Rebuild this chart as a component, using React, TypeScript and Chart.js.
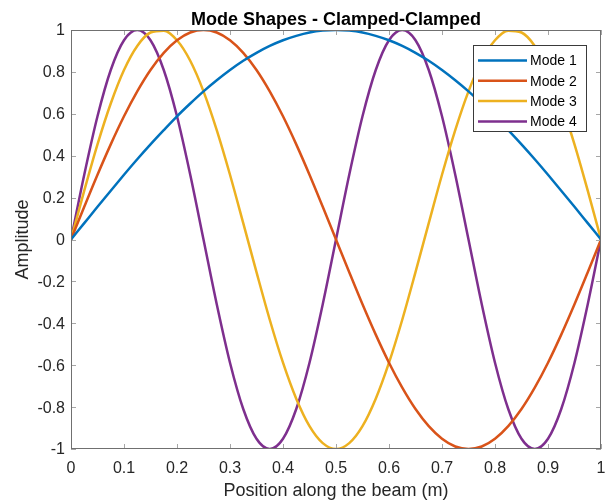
import React, { useEffect, useRef } from 'react';
import { Chart, registerables } from 'chart.js';

Chart.register(...registerables);

const positions = [
  0, 0.025, 0.05, 0.075, 0.1, 0.125, 0.15, 0.175, 0.2, 0.225,
  0.25, 0.275, 0.3, 0.325, 0.35, 0.375, 0.4, 0.425, 0.45, 0.475,
  0.5, 0.525, 0.55, 0.575, 0.6, 0.625, 0.65, 0.675, 0.7, 0.725,
  0.75, 0.775, 0.8, 0.825, 0.85, 0.875, 0.9, 0.925, 0.95, 0.975, 1,
];

const mode1 = [
  0, 0.078, 0.156, 0.233, 0.309, 0.383, 0.454, 0.522, 0.588, 0.649,
  0.707, 0.760, 0.809, 0.853, 0.891, 0.924, 0.951, 0.972, 0.988, 0.997,
  1, 0.997, 0.988, 0.972, 0.951, 0.924, 0.891, 0.853, 0.809, 0.760,
  0.707, 0.649, 0.588, 0.522, 0.454, 0.383, 0.309, 0.233, 0.156, 0.078, 0,
];

const mode2 = [
  0, 0.156, 0.309, 0.454, 0.588, 0.707, 0.809, 0.891, 0.951, 0.988,
  1, 0.988, 0.951, 0.891, 0.809, 0.707, 0.588, 0.454, 0.309, 0.156,
  0, -0.156, -0.309, -0.454, -0.588, -0.707, -0.809, -0.891, -0.951, -0.988,
  -1, -0.988, -0.951, -0.891, -0.809, -0.707, -0.588, -0.454, -0.309, -0.156, 0,
];

const mode3 = [
  0, 0.233, 0.454, 0.649, 0.809, 0.924, 0.988, 0.997, 0.951, 0.853,
  0.707, 0.522, 0.309, 0.078, -0.156, -0.383, -0.588, -0.760, -0.891, -0.972,
  -1, -0.972, -0.891, -0.760, -0.588, -0.383, -0.156, 0.078, 0.309, 0.522,
  0.707, 0.853, 0.951, 0.997, 0.988, 0.924, 0.809, 0.649, 0.454, 0.233, 0,
];

const mode4 = [
  0, 0.309, 0.588, 0.809, 0.951, 1, 0.951, 0.809, 0.588, 0.309,
  0, -0.309, -0.588, -0.809, -0.951, -1, -0.951, -0.809, -0.588, -0.309,
  0, 0.309, 0.588, 0.809, 0.951, 1, 0.951, 0.809, 0.588, 0.309,
  0, -0.309, -0.588, -0.809, -0.951, -1, -0.951, -0.809, -0.588, -0.309, 0,
];

const seriesNames = ['Mode 1', 'Mode 2', 'Mode 3', 'Mode 4'];
const seriesColors = ['#0072BD', '#D95319', '#EDB120', '#7E2F8E'];
const xTicks = [0, 0.1, 0.2, 0.3, 0.4, 0.5, 0.6, 0.7, 0.8, 0.9, 1];
const yTicks = [-1, -0.8, -0.6, -0.4, -0.2, 0, 0.2, 0.4, 0.6, 0.8, 1];

const titleText = 'Mode Shapes - Clamped-Clamped';
const xLabel = 'Position along the beam (m)';
const yLabel = 'Amplitude';

const FONT = '"Liberation Sans", Arial, Helvetica, sans-serif';
const TEXT = '#262626';

const fmt = (v: number) => String(Math.round(v * 10) / 10);

const decorPlugin = {
  id: 'decor',
  afterDatasetsDraw(chart: any) {
    const { ctx, chartArea: a, scales } = chart;
    const xs = scales.x;
    const ys = scales.y;
    ctx.save();

    // inward tick marks on all four sides
    ctx.strokeStyle = '#a6a6a6';
    ctx.lineWidth = 1;
    ctx.beginPath();
    xTicks.forEach((v) => {
      const px = Math.round(xs.getPixelForValue(v)) + 0.5;
      ctx.moveTo(px, a.bottom);
      ctx.lineTo(px, a.bottom - 5);
      ctx.moveTo(px, a.top);
      ctx.lineTo(px, a.top + 5);
    });
    yTicks.forEach((v) => {
      const py = Math.round(ys.getPixelForValue(v)) + 0.5;
      ctx.moveTo(a.left, py);
      ctx.lineTo(a.left + 5, py);
      ctx.moveTo(a.right, py);
      ctx.lineTo(a.right - 5, py);
    });
    ctx.stroke();

    // box
    ctx.strokeStyle = '#707070';
    ctx.lineWidth = 1;
    ctx.strokeRect(a.left + 0.5, a.top + 0.5, a.right - a.left - 1, a.bottom - a.top - 1);

    // tick labels
    ctx.fillStyle = TEXT;
    ctx.font = `16px ${FONT}`;
    ctx.textAlign = 'center';
    ctx.textBaseline = 'alphabetic';
    xTicks.forEach((v) => {
      ctx.fillText(fmt(v), xs.getPixelForValue(v), 473);
    });
    ctx.textAlign = 'right';
    ctx.textBaseline = 'middle';
    yTicks.forEach((v) => {
      ctx.fillText(fmt(v), a.left - 6, ys.getPixelForValue(v) + 1);
    });

    // title
    ctx.font = `bold 18px ${FONT}`;
    ctx.textAlign = 'center';
    ctx.textBaseline = 'alphabetic';
    ctx.fillStyle = '#000000';
    ctx.fillText(titleText, (a.left + a.right) / 2, 25);

    // axis labels
    ctx.fillStyle = TEXT;
    ctx.font = `18px ${FONT}`;
    ctx.fillText(xLabel, (a.left + a.right) / 2, 496);
    ctx.save();
    ctx.translate(28, (a.top + a.bottom) / 2);
    ctx.rotate(-Math.PI / 2);
    ctx.fillText(yLabel, 0, 0);
    ctx.restore();

    // legend
    const lx = 473.5, ly = 45.5, lw = 113, lh = 86;
    ctx.fillStyle = '#ffffff';
    ctx.fillRect(lx, ly, lw, lh);
    ctx.strokeStyle = '#3a3a3a';
    ctx.lineWidth = 1;
    ctx.strokeRect(lx, ly, lw, lh);
    ctx.font = `14px ${FONT}`;
    ctx.textAlign = 'left';
    ctx.textBaseline = 'middle';
    seriesNames.forEach((name, i) => {
      const ry = 60.5 + i * 20.3;
      ctx.strokeStyle = seriesColors[i];
      ctx.lineWidth = 2.5;
      ctx.beginPath();
      ctx.moveTo(478, ry);
      ctx.lineTo(527, ry);
      ctx.stroke();
      ctx.fillStyle = '#000000';
      ctx.fillText(name, 530, ry + 1);
    });

    ctx.restore();
  },
};

export default function App() {
  const canvasRef = useRef<HTMLCanvasElement | null>(null);

  useEffect(() => {
    const canvas = canvasRef.current;
    if (!canvas) return;
    const modes = [mode1, mode2, mode3, mode4];
    const chart = new Chart(canvas, {
      type: 'line',
      data: {
        datasets: modes.map((m, i) => ({
          label: seriesNames[i],
          data: positions.map((x, j) => ({ x, y: m[j] })),
          borderColor: seriesColors[i],
          backgroundColor: seriesColors[i],
          borderWidth: 2.5,
          pointRadius: 0,
          fill: false,
          cubicInterpolationMode: 'monotone' as const,
        })),
      },
      options: {
        responsive: false,
        animation: false,
        devicePixelRatio: 1,
        layout: { padding: { top: 30, right: 10, left: 0, bottom: 0 } },
        plugins: {
          legend: { display: false },
          title: { display: false },
          tooltip: { enabled: false },
        },
        scales: {
          x: {
            type: 'linear',
            min: 0,
            max: 1,
            ticks: { display: false, stepSize: 0.1 },
            grid: { display: false },
            border: { display: false },
            afterFit: (s: any) => { s.height = 55; },
          },
          y: {
            type: 'linear',
            min: -1,
            max: 1,
            ticks: { display: false, stepSize: 0.2 },
            grid: { display: false },
            border: { display: false },
            afterFit: (s: any) => { s.width = 71; },
          },
        },
      },
      plugins: [decorPlugin],
    });
    return () => chart.destroy();
  }, []);

  return (
    <div style={{ position: 'fixed', left: 0, top: 0, width: 611, height: 504, background: '#fff' }}>
      <canvas ref={canvasRef} width={611} height={504} style={{ display: 'block' }} />
    </div>
  );
}
